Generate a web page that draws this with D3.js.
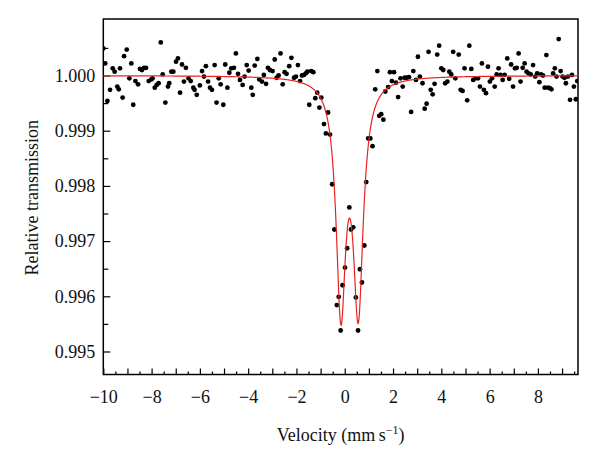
<!DOCTYPE html>
<html><head><meta charset="utf-8">
<script src="https://cdn.jsdelivr.net/npm/d3@7"></script>
<style>body{margin:0;background:#fff}</style>
</head><body><svg id="c" width="600" height="456"></svg>
<script>
// ---- data ----
const velocity = [
-10.00,-9.92,-9.83,-9.72,-9.61,-9.53,-9.42,-9.36,-9.31,-9.20,-9.14,-9.03,-8.92,-8.84,-8.76,-8.67,-8.56,-8.48,-8.40,-8.31,
-8.23,-8.12,-8.01,-7.96,-7.87,-7.79,-7.71,-7.62,-7.54,-7.43,-7.32,-7.27,-7.18,-7.10,-6.99,-6.91,-6.82,-6.74,-6.66,-6.58,
-6.47,-6.38,-6.27,-6.22,-6.13,-6.00,-5.91,-5.83,-5.75,-5.66,-5.58,-5.50,-5.39,-5.31,-5.22,-5.14,-5.03,-4.95,-4.86,-4.78,
-4.70,-4.59,-4.51,-4.42,-4.34,-4.23,-4.15,-4.06,-3.98,-3.87,-3.81,-3.73,-3.62,-3.54,-3.43,-3.35,-3.26,-3.18,-3.10,-2.99,
-2.90,-2.82,-2.74,-2.66,-2.57,-2.49,-2.41,-2.30,-2.21,-2.10,-2.02,-1.94,-1.85,-1.77,-1.69,-1.61,-1.55,-1.47,-1.39,-1.30,
-1.22,-1.14,-1.05,-0.97,-0.86,-0.78,-0.69,-0.61,-0.52,-0.43,-0.33,-0.25,-0.17,-0.09,0.01,0.10,0.19,0.26,0.35,0.46,
0.55,0.63,0.71,0.81,0.89,0.97,1.06,1.15,1.26,1.35,1.43,1.51,1.60,1.68,1.80,1.87,1.95,2.04,2.12,2.21,
2.31,2.40,2.48,2.56,2.66,2.75,2.84,2.95,3.03,3.11,3.22,3.31,3.39,3.47,3.56,3.64,3.72,3.83,3.91,4.00,
4.08,4.16,4.25,4.33,4.41,4.49,4.58,4.72,4.80,4.88,4.96,5.07,5.16,5.24,5.32,5.41,5.52,5.60,5.68,5.76,
5.85,5.93,6.01,6.10,6.21,6.29,6.37,6.45,6.54,6.62,6.73,6.81,6.89,6.97,7.05,7.12,7.20,7.28,7.37,7.45,
7.53,7.61,7.70,7.80,7.89,7.97,8.06,8.13,8.21,8.28,8.35,8.42,8.49,8.56,8.63,8.70,8.77,8.86,8.94,9.02,
9.10,9.16,9.24,9.33,9.41,9.49,9.57,9.63];
const transmission = [
1.00049,1.00022,0.99954,0.99974,1.00013,1.00007,0.99980,0.99975,1.00013,0.99960,1.00035,1.00047,0.99995,1.00022,0.99947,0.99990,0.99984,1.00012,1.00010,1.00014,
1.00014,0.99990,0.99993,0.99995,0.99978,0.99983,0.99986,1.00060,1.00002,0.99951,0.99980,0.99986,1.00007,1.00007,1.00025,1.00031,0.99969,1.00020,0.99989,1.00014,
0.99995,0.99990,0.99978,0.99974,0.99965,0.99982,1.00008,0.99998,1.00017,0.99989,0.99978,0.99974,1.00019,0.99951,0.99995,0.99984,0.99947,1.00020,0.99978,1.00005,
1.00013,1.00014,1.00040,1.00003,0.99992,0.99983,0.99998,1.00019,1.00009,0.99978,0.99965,1.00018,1.00030,0.99993,0.99989,1.00001,0.99985,1.00014,1.00010,1.00008,
1.00029,0.99996,1.00000,1.00040,0.99984,1.00006,1.00003,1.00017,1.00032,0.99996,0.99998,1.00019,0.99990,1.00000,1.00001,1.00004,1.00007,0.99947,1.00008,1.00006,
0.99959,0.99969,0.99942,0.99960,0.99912,0.99895,0.99933,0.99893,0.99803,0.99721,0.99584,0.99599,0.99538,0.99620,0.99652,0.99687,0.99761,0.99721,0.99725,0.99598,
0.99538,0.99649,0.99625,0.99692,0.99807,0.99886,0.99886,0.99872,0.99975,1.00008,0.99927,0.99930,0.99920,0.99971,0.99979,1.00006,0.99990,1.00006,0.99987,0.99961,
0.99995,0.99980,0.99996,0.99996,0.99997,0.99934,1.00008,0.99992,1.00034,0.99998,0.99986,0.99940,0.99949,1.00043,0.99974,0.99966,0.99985,1.00038,1.00054,1.00013,
1.00010,0.99986,0.99989,1.00007,1.00002,1.00043,0.99995,1.00038,0.99974,0.99972,1.00013,0.99955,1.00054,1.00012,0.99992,0.99995,0.99995,0.99980,1.00022,0.99974,
0.99968,1.00016,0.99989,0.99995,0.99980,1.00002,1.00013,1.00001,0.99992,1.00001,1.00031,0.99994,1.00020,0.99980,1.00013,1.00014,1.00040,0.99989,1.00014,1.00022,
1.00007,1.00004,1.00002,1.00019,0.99998,1.00004,0.99988,1.00002,1.00000,0.99978,1.00037,0.99978,0.99977,0.99975,1.00004,1.00013,0.99998,1.00066,1.00008,0.99998,
0.99996,0.99986,0.99998,0.99956,1.00001,0.99980,0.99957,0.99990];

const xTickLabels = [-10,-8,-6,-4,-2,0,2,4,6,8];
const yTickLabels = [0.995,0.996,0.997,0.998,0.999,1.000];

// fitted doublet (Lorentzian lines) parameters
const fitBaseline = 1.0;
const fitDepth = 0.00408;
const fitCentres = [-0.16, 0.56];
const fitHalfWidths = [0.24, 0.25];

const xDomain = [-10, 9.66];
const yDomain = [0.994583, 1.001024];

// ---- drawing ----
const svg = d3.select("#c");
const L = 103.3, R = 578, T = 19, B = 374.5;
const x = d3.scaleLinear().domain(xDomain).range([L, R]);
const y = d3.scaleLinear().domain(yDomain).range([B, T]);
const font = "'Liberation Serif','Times New Roman',serif";

svg.append("defs").append("clipPath").attr("id","clip")
  .append("rect").attr("x",L).attr("y",T).attr("width",R-L).attr("height",B-T);

// x axis: integer ticks (major), half ticks (minor)
const xMajor = d3.range(-10, 10, 1);
const xMinor = d3.range(-9.5, 9.6, 1);
const gxMinor = svg.append("g").attr("transform",`translate(0,${B})`)
  .call(d3.axisBottom(x).tickValues(xMinor).tickSize(-3).tickFormat(""));
const gx = svg.append("g").attr("transform",`translate(0,${B})`)
  .call(d3.axisBottom(x).tickValues(xMajor).tickSize(-6).tickPadding(15.5)
    .tickFormat(d => xTickLabels.includes(d) ? d3.format("d")(d) : ""));

// y axis
const yMajor = yTickLabels;
const yMinor = d3.range(0, 6).map(i => 0.9955 + i*0.001);
const gyMinor = svg.append("g").attr("transform",`translate(${L},0)`)
  .call(d3.axisLeft(y).tickValues(yMinor).tickSize(-5).tickFormat(""));
const gy = svg.append("g").attr("transform",`translate(${L},0)`)
  .call(d3.axisLeft(y).tickValues(yMajor).tickSize(-7).tickPadding(8).tickFormat(d3.format(".3f")));

[gx, gxMinor, gy, gyMinor].forEach(g => {
  g.select(".domain").remove();
  g.selectAll(".tick line").attr("stroke","#000").attr("stroke-width",1.2);
  g.selectAll("text").attr("font-family",font).attr("font-size",18).attr("fill","#111");
});

// frame
svg.append("rect").attr("x",L).attr("y",T).attr("width",R-L).attr("height",B-T)
  .attr("fill","none").attr("stroke","#000").attr("stroke-width",1.5);

// points
const pts = velocity.map((v,i)=>({v, t: transmission[i]}));
svg.append("g").attr("clip-path","url(#clip)").selectAll("circle").data(pts).join("circle")
  .attr("cx", d => x(d.v)).attr("cy", d => y(d.t)).attr("r", 2.4).attr("fill","#000");

// fitted curve from the model parameters
const lor = (v, c, g) => 1 / (1 + ((v - c)/g)**2);
const model = v => fitBaseline - fitDepth * d3.sum(fitCentres, (c,i) => lor(v, c, fitHalfWidths[i]));
const grid = d3.range(xDomain[0], xDomain[1] + 0.001, 0.01);
svg.append("path").attr("clip-path","url(#clip)")
  .datum(grid)
  .attr("d", d3.line().x(v => x(v)).y(v => y(model(v))))
  .attr("fill","none").attr("stroke","#e8231f").attr("stroke-width",1.2);

// axis titles
const xt = svg.append("text").attr("x",(L+R)/2).attr("y",441).attr("text-anchor","middle")
  .attr("font-family",font).attr("font-size",18).attr("fill","#111");
xt.append("tspan").text("Velocity (mm\u2009s");
xt.append("tspan").attr("font-size",12).attr("dy",-7).text("\u22121");
xt.append("tspan").attr("dy",7).text(")");

svg.append("text").attr("transform",`translate(38,${(T+B)/2 + 1}) rotate(-90)`)
  .attr("text-anchor","middle").attr("font-family",font).attr("font-size",18).attr("fill","#111")
  .text("Relative transmission");
</script></body></html>
